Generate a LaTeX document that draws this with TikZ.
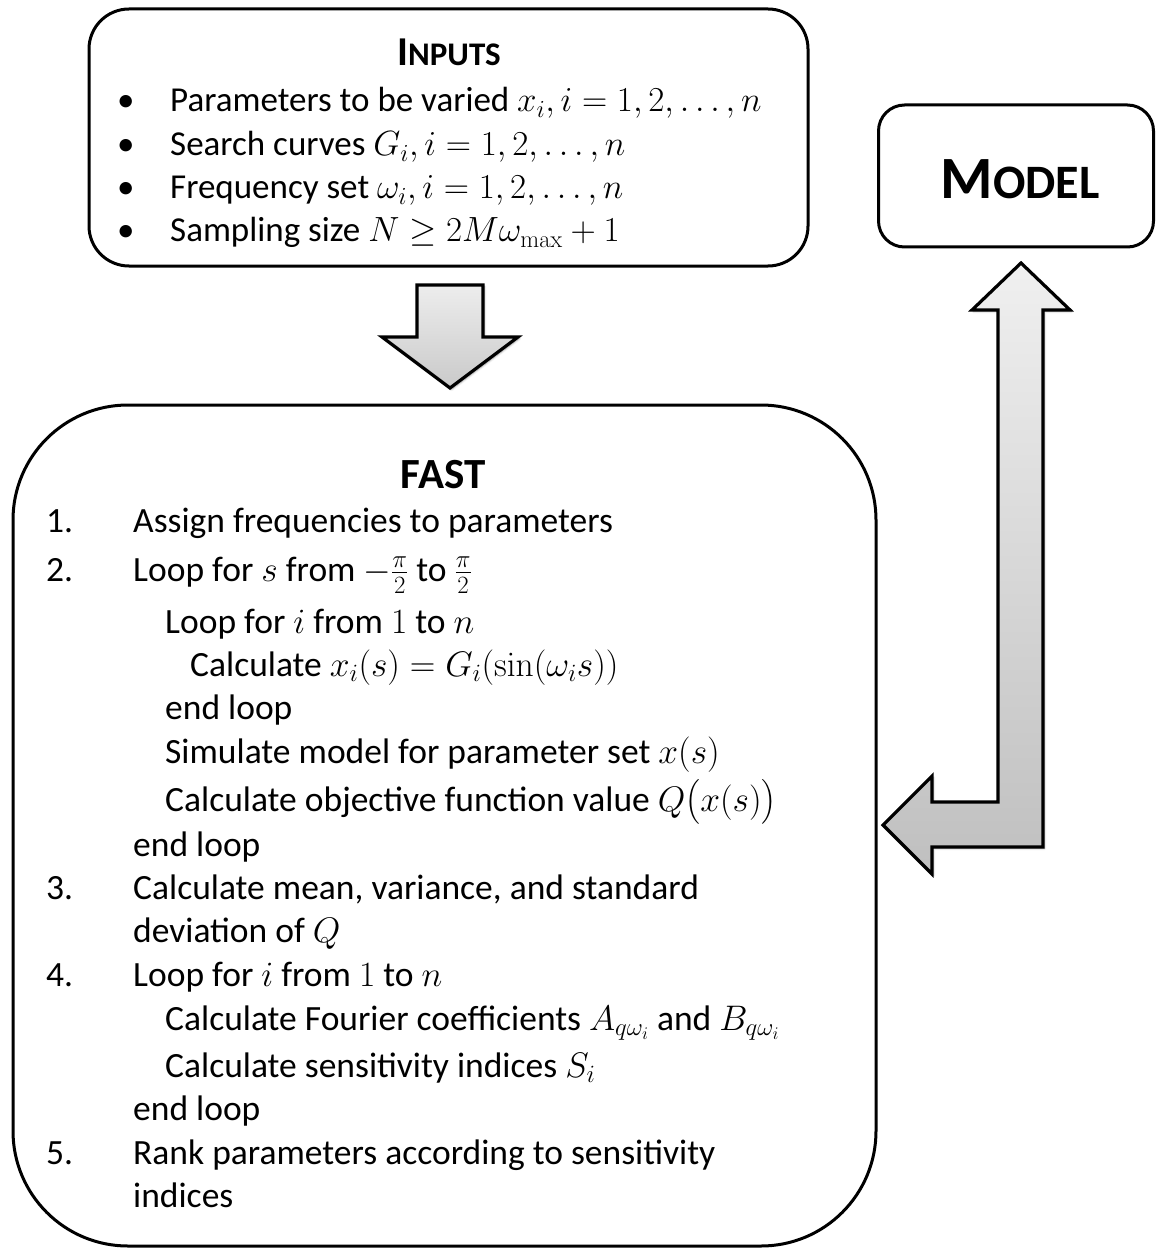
\documentclass[tikz,border=0pt]{standalone}
\usepackage{fix-cm}
\usepackage{amsmath}
\usepackage[no-math]{fontspec}
\setmainfont{Carlito}
\usetikzlibrary{shadows.blur}

\newcommand{\fsz}[1]{\fontsize{#1}{#1}\selectfont}

\tikzset{
  box/.style={draw=black, line width=3pt, fill=white},
  blockarrow/.style={draw=black, line width=3.2pt, line join=miter,
    blur shadow={shadow blur steps=6, shadow xshift=1.5pt, shadow yshift=-1.5pt, shadow opacity=35}},
  bodytext/.style={anchor=base west, inner sep=0pt, font=\fsz{35.5}},
  bullettext/.style={anchor=base west, inner sep=0pt, font=\fsz{35}},
  title/.style={anchor=base, inner sep=0pt},
}

\begin{document}
\begin{tikzpicture}[x=1pt, y=-1pt]
\useasboundingbox (0,0) rectangle (1156,1249);

% ---- boxes ----
\node[box, rounded corners=40pt, minimum width=719pt, minimum height=257pt] (inputs) at (448.5,137.5) {};
\node[box, rounded corners=26pt, minimum width=275pt, minimum height=142pt] (model) at (1016,176) {};
\node[box, rounded corners=115pt, minimum width=863pt, minimum height=841pt] (fast) at (444.5,825.5) {};

% ---- inputs content ----
\node[title] (tin) at (449,66) {\bfseries\fsz{41}I\fsz{33}NPUTS};
\foreach \yy/\name/\txt in {
   112/i1/{Parameters to be varied $x_i, i=1,2,\dots,n$},
   156/i2/{Search curves $G_i, i=1,2,\dots,n$},
   199/i3/{Frequency set $\omega_i, i=1,2,\dots,n$},
   242/i4/{Sampling size $N \geq 2M\omega_{\max}+1$}}{
  \node[bullettext] at (117,\yy) {\textbullet};
  \node[bullettext] (\name) at (170,\yy) {\txt};
}

% ---- model content ----
\node[title] (tmodel) at (1020,199) {\bfseries\fsz{60}M\fsz{48}ODEL};

% ---- fast content ----
\node[title] (tfast) at (443,488) {\bfseries\fsz{43}FAST};
\foreach \yy/\xx/\name/\txt in {
   532/133/f1/{Assign frequencies to parameters},
   581/133/f2/{Loop for $s$ from $-\frac{\pi}{2}$ to $\frac{\pi}{2}$},
   633/165/f3/{Loop for $i$ from $1$ to $n$},
   676/190/f4/{Calculate $x_i(s) = G_i(\sin(\omega_i s))$},
   719/165/f5/{end loop},
   763/165/f6/{Simulate model for parameter set $x(s)$},
   811/165/f7/{Calculate objective function value $Q\bigl(x(s)\bigr)$},
   856/133/f8/{end loop},
   899/133/f9/{Calculate mean, variance, and standard},
   942/133/f10/{deviation of $Q$},
   986/133/f11/{Loop for $i$ from $1$ to $n$},
   1030/165/f12/{Calculate Fourier coefficients $A_{q\omega_i}$ and $B_{q\omega_i}$},
   1077/165/f13/{Calculate sensitivity indices $S_i$},
   1120/133/f14/{end loop},
   1164/133/f15/{Rank parameters according to sensitivity},
   1207/133/f16/{indices}}{
  \node[bodytext] (\name) at (\xx,\yy) {\txt};
}
\foreach \yy/\num in {532/1, 581/2, 899/3, 986/4, 1164/5}{
  \node[bodytext] at (46,\yy) {\num.};
}

% ---- block arrow from inputs down to fast ----
\path[blockarrow, top color=gray!14, bottom color=gray!42]
  (417,285) -- (483,285) -- (483,337) -- (518,337) -- (450,388)
  -- (382,337) -- (417,337) -- cycle;

% ---- bent two-way block arrow between model and fast ----
\path[blockarrow, top color=gray!12, bottom color=gray!50]
  (1021,263) -- (1070,310) -- (1043,310) -- (1043,847) -- (932,847)
  -- (932,874) -- (883,825) -- (932,776) -- (932,802) -- (998,802)
  -- (998,310) -- (972,310) -- cycle;

\end{tikzpicture}
\end{document}
